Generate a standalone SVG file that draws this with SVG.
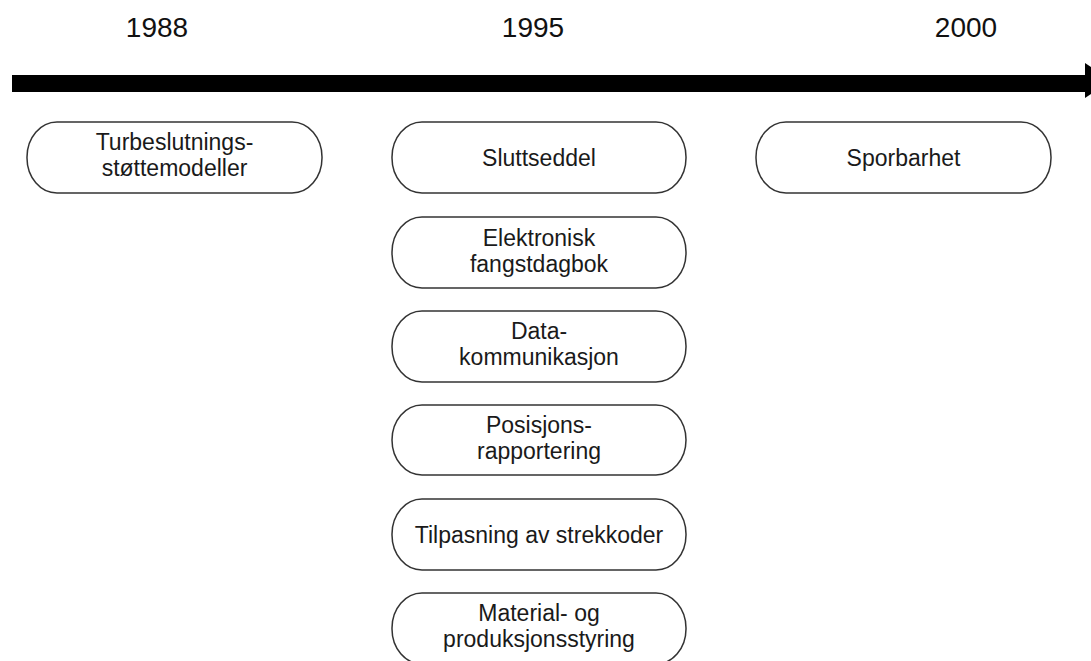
<svg xmlns="http://www.w3.org/2000/svg" width="1091" height="661" viewBox="0 0 1091 661">
  <style>
    .node rect { fill: #ffffff; stroke: #333333; stroke-width: 1.5; }
    .label { font-family: "Liberation Sans", Arial, sans-serif; font-size: 23px; fill: #1a1a1a; text-anchor: middle; }
    .year { font-family: "Liberation Sans", Arial, sans-serif; font-size: 28px; fill: #111111; text-anchor: middle; }
  </style>
  <rect x="0" y="0" width="1091" height="661" fill="#ffffff"/>
  <g id="years">
    <text class="year" x="157" y="37">1988</text>
    <text class="year" x="533" y="37">1995</text>
    <text class="year" x="966" y="37">2000</text>
  </g>
  <g id="connectors">
    <rect x="12" y="75" width="1075" height="17" fill="#000000"/>
    <polygon points="1085,63 1085,98 1112,80.5" fill="#000000"/>
  </g>
  <g id="n-turbeslutning" class="node">
    <rect x="27" y="122" width="295" height="71" rx="30" ry="35"/>
    <text class="label" x="174.5" y="150">Turbeslutnings-</text>
    <text class="label" x="174.5" y="176">støttemodeller</text>
  </g>
  <g id="n-sluttseddel" class="node">
    <rect x="392" y="122" width="294" height="71" rx="30" ry="35"/>
    <text class="label" x="539" y="166">Sluttseddel</text>
  </g>
  <g id="n-sporbarhet" class="node">
    <rect x="756" y="122" width="295" height="71" rx="30" ry="35"/>
    <text class="label" x="903.5" y="166">Sporbarhet</text>
  </g>
  <g id="n-fangstdagbok" class="node">
    <rect x="392" y="217" width="294" height="71" rx="30" ry="35"/>
    <text class="label" x="539" y="246">Elektronisk</text>
    <text class="label" x="539" y="272">fangstdagbok</text>
  </g>
  <g id="n-datakommunikasjon" class="node">
    <rect x="392" y="311" width="294" height="71" rx="30" ry="35"/>
    <text class="label" x="539" y="339">Data-</text>
    <text class="label" x="539" y="365">kommunikasjon</text>
  </g>
  <g id="n-posisjonsrapportering" class="node">
    <rect x="392" y="405" width="294" height="70" rx="30" ry="35"/>
    <text class="label" x="539" y="433">Posisjons-</text>
    <text class="label" x="539" y="459">rapportering</text>
  </g>
  <g id="n-strekkoder" class="node">
    <rect x="392" y="499" width="294" height="71" rx="30" ry="35"/>
    <text class="label" x="539" y="543">Tilpasning av strekkoder</text>
  </g>
  <g id="n-materialstyring" class="node">
    <rect x="392" y="593" width="294" height="71" rx="30" ry="35"/>
    <text class="label" x="539" y="621">Material- og</text>
    <text class="label" x="539" y="647">produksjonsstyring</text>
  </g>
</svg>
